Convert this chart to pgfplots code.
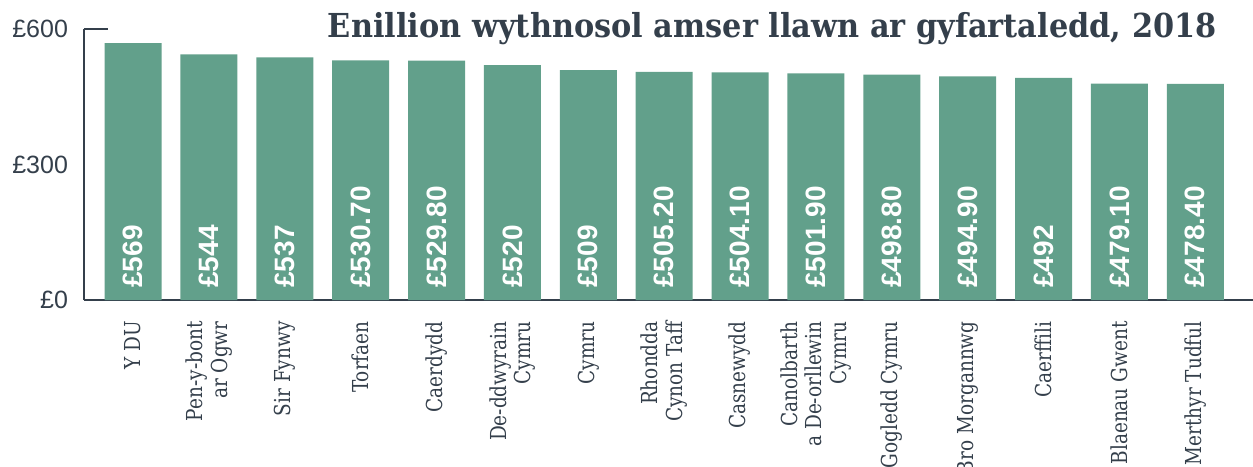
\documentclass[border=0pt]{standalone}
\usepackage{fontspec}
\usepackage{pgfplots}
\usepackage{pgfplotstable}
\pgfplotsset{compat=1.18}
\setmainfont{DejaVu Serif}
\newfontfamily\labfont[FakeStretch=0.84]{DejaVu Serif}
\newfontfamily\slabtitle[FakeStretch=0.92]{DejaVu Serif}
\newfontfamily\tickfont{Liberation Sans}
\definecolor{bargreen}{HTML}{62A08B}
\definecolor{ink}{HTML}{343F4B}
\pgfplotstableread{
x y lab
0 569 £569
1 544 £544
2 537 £537
3 530.70 £530.70
4 529.80 £529.80
5 520 £520
6 509 £509
7 505.20 £505.20
8 504.10 £504.10
9 501.90 £501.90
10 498.80 £498.80
11 494.90 £494.90
12 492 £492
13 479.10 £479.10
14 478.40 £478.40
}\datatable
\begin{document}
\begin{tikzpicture}
\useasboundingbox (-42pt,-83pt) rectangle (584.5pt,150pt);
\begin{axis}[
  at={(0,0)}, anchor=south west,
  scale only axis, width=584.5pt, height=135.5pt,
  xmin=-0.646, xmax=14.76, ymin=0, ymax=600,
  axis x line=bottom, axis y line=left,
  axis line style={-, draw=ink, line width=0.8pt},
  ytick={0,300,600}, yticklabels={£0,£300,£600},
  yticklabel style={font=\tickfont\fontsize{12.5}{14}\selectfont, text=ink, xshift=-4.5pt},
  major tick length=0pt,
  extra y ticks={600}, extra y tick labels={},
  extra y tick style={tick align=inside, major tick length=12pt, tick style={draw=ink, line width=0.8pt}},
  xtick={0,...,14},
  xticklabels={Y DU, Pen-y-bont\\ar Ogwr, Sir Fynwy, Torfaen, Caerdydd, De-ddwyrain\\Cymru, Cymru, Rhondda\\Cynon Taff, Casnewydd, Canolbarth\\a De-orllewin\\Cymru, Gogledd Cymru, Bro Morgannwg, Caerffili, Blaenau Gwent, Merthyr Tudful},
  xticklabel style={rotate=90, anchor=east, align=right, font=\labfont\fontsize{11}{12.3}\selectfont, text=ink, inner sep=0pt, xshift=-10.5pt},
  clip=false,
]
\addplot[ybar, bar width=28.5pt, fill=bargreen, draw=none] table[x=x, y=y] \datatable;
\addplot[draw=none, mark=none, point meta=explicit symbolic,
  nodes near coords,
  every node near coord/.style={rotate=90, anchor=west, inner xsep=6pt, inner ysep=0pt, text=white, font=\tickfont\bfseries\fontsize{14}{16}\selectfont}]
  table[x=x, y expr=0, meta=lab] \datatable;
\end{axis}
\node[anchor=base east, text=ink, font=\slabtitle\bfseries\fontsize{16.5}{18}\selectfont, inner sep=0pt] at (566.5pt,131pt) {Enillion wythnosol amser llawn ar gyfartaledd, 2018};
\end{tikzpicture}
\end{document}
